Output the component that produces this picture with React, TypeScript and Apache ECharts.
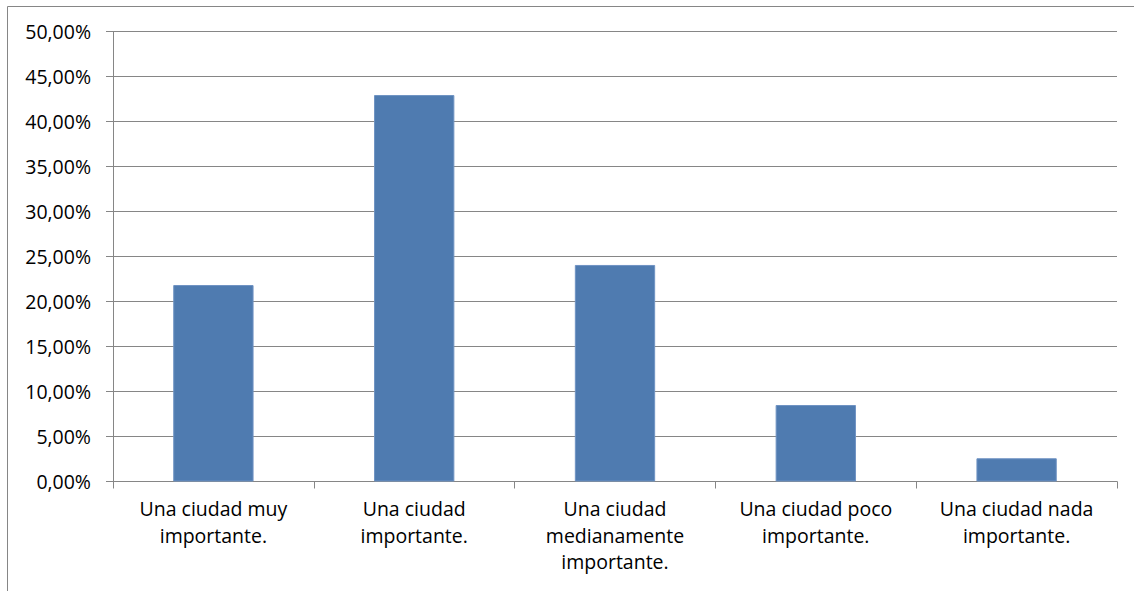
import React, { useEffect, useRef } from "react";
import * as echarts from "echarts";

const categories = [
  "Una ciudad muy\nimportante.",
  "Una ciudad\nimportante.",
  "Una ciudad\nmedianamente\nimportante.",
  "Una ciudad poco\nimportante.",
  "Una ciudad nada\nimportante.",
];
const values = [21.83, 42.94, 24.06, 8.5, 2.58];
const yMin = 0;
const yMax = 50;
const yStep = 5;

const FONT = "'Open Sans', sans-serif";
const GRAY = "#868686";

export default function App() {
  const ref = useRef<HTMLDivElement>(null);
  useEffect(() => {
    if (!ref.current) return;
    const chart = echarts.init(ref.current, undefined, { renderer: "svg" });
    chart.setOption({
      animation: false,
      backgroundColor: "#ffffff",
      grid: { left: 113, right: 17, top: 31.5, bottom: 109.5, containLabel: false },
      graphic: [
        {
          type: "rect",
          shape: { x: 7.5, y: 6.5, width: 1300, height: 800 },
          style: { fill: "none", stroke: GRAY, lineWidth: 1 },
          silent: true,
        },
      ],
      xAxis: {
        type: "category",
        data: categories,
        boundaryGap: true,
        axisLine: { show: true, lineStyle: { color: GRAY, width: 1 } },
        axisTick: { show: true, length: 7, alignWithLabel: false, lineStyle: { color: GRAY } },
        axisLabel: {
          interval: 0,
          margin: 14,
          color: "#000000",
          fontFamily: FONT,
          fontSize: 19.5,
          lineHeight: 26.5,
        },
      },
      yAxis: {
        type: "value",
        min: yMin,
        max: yMax,
        interval: yStep,
        axisLine: { show: true, lineStyle: { color: GRAY, width: 1 } },
        axisTick: { show: true, length: 7, lineStyle: { color: GRAY } },
        splitLine: { show: true, lineStyle: { color: GRAY, width: 1 } },
        axisLabel: {
          margin: 22,
          color: "#000000",
          fontFamily: FONT,
          fontSize: 19.5,
          formatter: (v: number) => v.toFixed(2).replace(".", ",") + "%",
        },
      },
      series: [
        {
          type: "bar",
          data: values,
          barWidth: "40%",
          itemStyle: { color: "#4f7bb0", borderColor: "#6f93c3", borderWidth: 1 },
        },
      ],
    });
    return () => chart.dispose();
  }, []);
  return (
    <div
      ref={ref}
      style={{ position: "fixed", left: 0, top: 0, width: 1134, height: 591, background: "#fff" }}
    />
  );
}
